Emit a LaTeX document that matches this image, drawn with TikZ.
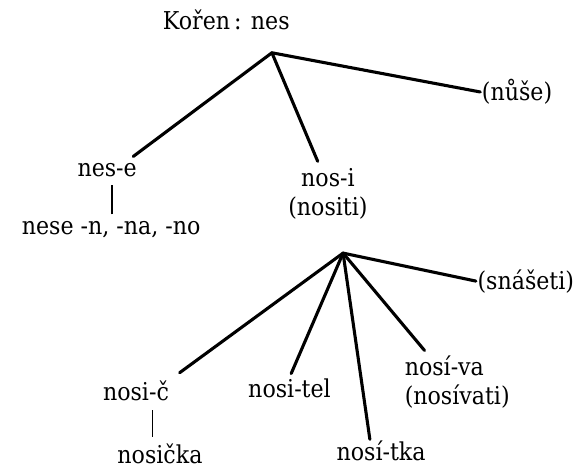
\documentclass[tikz,border=0pt]{standalone}
\usepackage{fontspec}
\setmainfont{DejaVu Serif Condensed}
\usetikzlibrary{positioning,calc}
\tikzstyle{branch} = [line width=2.2pt, line cap=round]
\tikzstyle{link} = [line width=0.8pt]

\begin{document}
\begin{tikzpicture}
\tikzstyle{every node}=[align=center, inner sep=1pt, font=\fontsize{17.5}{21}\selectfont]
	\useasboundingbox (0,0) rectangle (14.43,-11.73);
	\node (koren) at (5.66, -0.50) {Kořen\,: nes};
	\coordinate (kor) at (6.80, -1.32);
	\node (nese) at (2.68, -4.25) {nes-e};
	\node (nesen) at (2.78, -5.75) {nese -n, -na, -no};
	\node (nosi) at (8.20, -4.85) {nos-i \\ (nositi)};
	\node (nuse) at (12.93, -2.30) {(nůše)};
	\coordinate (nos) at (8.58, -6.33);
	\node (nosic) at (3.40, -9.78) {nosi-č};
	\node (nosicka) at (4.00, -11.36) {nosička};
	\node (nositel) at (7.24, -9.72) {nosi-tel};
	\node (nositka) at (9.53, -11.28) {nosí-tka};
	\node[align=left, anchor=west] (nosiva) at (10.08, -9.55) {nosí-va \\ (nosívati)};
	\node (snaseti) at (13.15, -7.03) {(snášeti)};

	\draw[branch, shorten >=6pt]  (kor) to ([xshift=-0.3cm]nese.north east);
	\draw[branch, shorten >=4pt]  (kor) to ([xshift=-0.2cm]nosi.north);
	\draw[branch]  (kor) to (nuse.west);
	\draw[link, shorten <=4pt, shorten >=5pt]  ([xshift=0.02cm]nesen.north) to ([xshift=0.02cm]nesen.north |- nese.south);

	\draw[branch, shorten >=8pt]  (nos) to (nosic.north east);
	\draw[branch, shorten >=3pt]  (nos) to (nositel.north);
	\draw[branch]  (nos) to ([xshift=-0.28cm]nositka.north);
	\draw[branch, shorten >=3pt]  (nos) to ([xshift=-0.75cm]nosiva.north);
	\draw[branch]  (nos) to (snaseti.west);
	\draw[link, shorten <=4pt, shorten >=5pt]  ([xshift=-0.18cm]nosicka.north) to ([xshift=-0.18cm]nosicka.north |- nosic.south);
\end{tikzpicture}
\end{document}
